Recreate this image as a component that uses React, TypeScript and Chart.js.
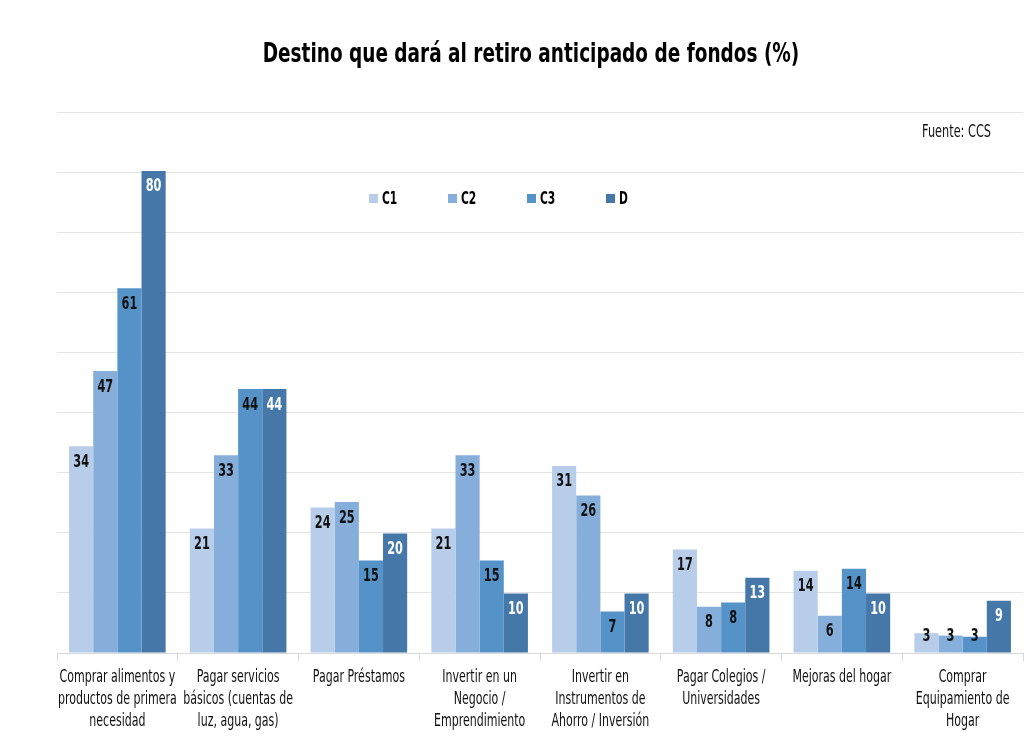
import React, { useEffect, useRef } from "react";
import { Chart, registerables } from "chart.js";

Chart.register(...registerables);

const TITLE = "Destino que dará al retiro anticipado de fondos (%)";
const SOURCE = "Fuente: CCS";

const categories: string[][] = [
  ["Comprar alimentos y", "productos de primera", "necesidad"],
  ["Pagar servicios", "básicos (cuentas de", "luz, agua, gas)"],
  ["Pagar Préstamos"],
  ["Invertir en un", "Negocio /", "Emprendimiento"],
  ["Invertir en", "Instrumentos de", "Ahorro / Inversión"],
  ["Pagar Colegios /", "Universidades"],
  ["Mejoras del hogar"],
  ["Comprar", "Equipamiento de", "Hogar"],
];

const seriesNames = ["C1", "C2", "C3", "D"];
const c1 = [34.4, 20.7, 24.2, 20.7, 31.1, 17.2, 13.7, 3.3];
const c2 = [46.9, 32.9, 25.1, 32.9, 26.2, 7.7, 6.2, 2.9];
const c3 = [60.7, 43.9, 15.4, 15.4, 6.9, 8.4, 14.0, 2.7];
const d = [80.2, 43.9, 19.9, 9.9, 9.9, 12.5, 9.9, 8.7];

const colors = ["#B7CDE9", "#86AEDB", "#5592C8", "#4577A8"];
const labelColors = ["#111111", "#111111", "#111111", "#FFFFFF"];

const FONT = '"DejaVu Sans Condensed", "DejaVu Sans", sans-serif';

function drawCondensed(
  ctx: CanvasRenderingContext2D,
  text: string,
  x: number,
  y: number,
  font: string,
  sx: number,
  align: CanvasTextAlign,
  color: string
) {
  ctx.save();
  ctx.font = font;
  ctx.textAlign = align;
  ctx.textBaseline = "middle";
  ctx.fillStyle = color;
  ctx.translate(x, y);
  ctx.scale(sx, 1);
  ctx.fillText(text, 0, 0);
  ctx.restore();
}

const overlayPlugin = {
  id: "overlay",
  afterDraw(chart: any) {
    const ctx: CanvasRenderingContext2D = chart.ctx;
    const xs = chart.scales.x;
    // value labels
    chart.data.datasets.forEach((ds: any, i: number) => {
      const meta = chart.getDatasetMeta(i);
      meta.data.forEach((bar: any, j: number) => {
        const v = ds.data[j];
        const y = Math.min(bar.y + 16, bar.base - 16);
        drawCondensed(ctx, String(Math.round(v)), bar.x, y, `bold 17px ${FONT}`, 0.74, "center", labelColors[i]);
      });
    });
    // category labels
    (chart.data.labels as string[][]).forEach((lines, i) => {
      const x = xs.getPixelForValue(i);
      lines.forEach((line, k) => {
        drawCondensed(ctx, line, x, 678 + k * 22, `17px ${FONT}`, 0.72, "center", "#111111");
      });
    });
    // title
    drawCondensed(ctx, TITLE, 531, 55, `bold 26px ${FONT}`, 0.79, "center", "#000000");
    // source
    drawCondensed(ctx, SOURCE, 991, 133, `17px ${FONT}`, 0.74, "right", "#111111");
    // legend
    chart.data.datasets.forEach((ds: any, i: number) => {
      const x = 369 + i * 79;
      ctx.fillStyle = colors[i];
      ctx.fillRect(x, 194, 9, 9);
      drawCondensed(ctx, ds.label, x + 13, 199, `bold 18px ${FONT}`, 0.66, "left", "#000000");
    });
  },
};

export default function App() {
  const ref = useRef<HTMLCanvasElement | null>(null);
  useEffect(() => {
    document.body.style.margin = "0";
    const canvas = ref.current;
    if (!canvas) return;
    const all = [c1, c2, c3, d];
    const chart = new Chart(canvas, {
      type: "bar",
      data: {
        labels: categories,
        datasets: seriesNames.map((name, i) => ({
          label: name,
          data: all[i],
          backgroundColor: colors[i],
          borderWidth: 0,
          categoryPercentage: 0.8,
          barPercentage: 1.0,
        })),
      },
      options: {
        animation: false,
        responsive: false,
        maintainAspectRatio: false,
        layout: { padding: { top: 112, left: 57, right: 1, bottom: 0 } },
        plugins: {
          legend: { display: false },
          title: { display: false },
          tooltip: { enabled: false },
        },
        scales: {
          x: {
            afterFit: (scale: any) => {
              scale.height = 89;
            },
            grid: {
              display: true,
              offset: true,
              drawOnChartArea: false,
              drawTicks: true,
              tickLength: 8,
              color: "#D9D9D9",
            },
            border: { display: true, color: "#D9D9D9" },
            ticks: { display: false, autoSkip: false },
          },
          y: {
            min: 0,
            max: 90,
            ticks: { display: false, stepSize: 10 },
            grid: { color: "#E3E3E3", drawTicks: false, lineWidth: 1 },
            border: { display: false },
          },
        },
      },
      plugins: [overlayPlugin],
    });
    return () => chart.destroy();
  }, []);
  return (
    <div style={{ width: 1024, height: 742, background: "#fff" }}>
      <canvas ref={ref} width={1024} height={742} style={{ display: "block" }} />
    </div>
  );
}
